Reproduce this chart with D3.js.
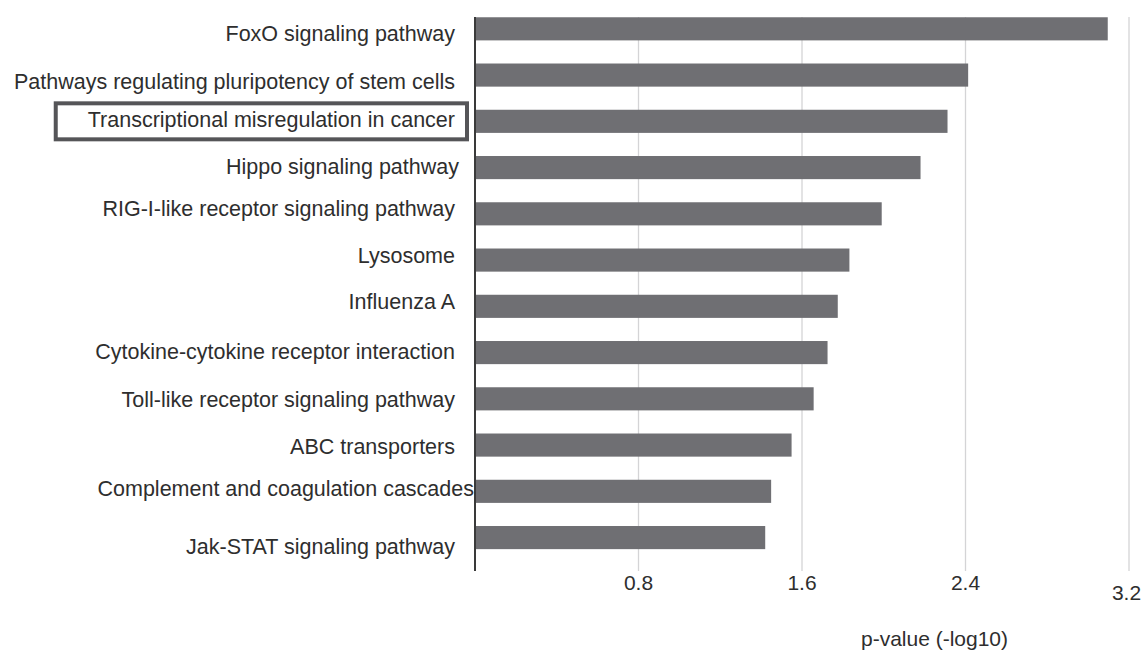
<!DOCTYPE html>
<html>
<head>
<meta charset="utf-8">
<script src="https://cdn.jsdelivr.net/npm/d3@7"></script>
<style>
  html, body { margin: 0; padding: 0; background: #ffffff; }
  svg { display: block; }
  text { font-family: "Liberation Sans", Arial, Helvetica, sans-serif; fill: #2e2e2e; }
</style>
</head>
<body>
<svg id="chart" width="1144" height="652"></svg>
<script>
// KEGG pathway enrichment, -log10(p-value)
const pathways = [
  "FoxO signaling pathway",
  "Pathways regulating pluripotency of stem cells",
  "Transcriptional misregulation in cancer",
  "Hippo signaling pathway",
  "RIG-I-like receptor signaling pathway",
  "Lysosome",
  "Influenza A",
  "Cytokine-cytokine receptor interaction",
  "Toll-like receptor signaling pathway",
  "ABC transporters",
  "Complement and coagulation cascades",
  "Jak-STAT signaling pathway"
];
const logP = [3.096, 2.413, 2.312, 2.18, 1.99, 1.832, 1.775, 1.725, 1.657, 1.549, 1.449, 1.42];
const tickValues = [0.8, 1.6, 2.4, 3.2];
const xTitle = "p-value (-log10)";
const highlighted = "Transcriptional misregulation in cancer";

const svg = d3.select("#chart");

const x = d3.scaleLinear().domain([0, 3.2]).range([475, 1129]);
const y = d3.scaleBand().domain(pathways).range([5.7, 560.7])
  .paddingInner(0.5).paddingOuter(0.25);

const plotTop = 17, plotBottom = 571;

// vertical grid lines
svg.append("g").selectAll("line").data(tickValues).join("line")
  .attr("x1", d => x(d)).attr("x2", d => x(d))
  .attr("y1", plotTop).attr("y2", plotBottom)
  .attr("stroke", "#d4d4d6").attr("stroke-width", 1.3);

// bars
svg.append("g").selectAll("rect").data(pathways).join("rect")
  .attr("x", x(0))
  .attr("y", d => y(d))
  .attr("width", (d, i) => x(logP[i]) - x(0))
  .attr("height", y.bandwidth())
  .attr("fill", "#6f6f73");

// category axis line
svg.append("line")
  .attr("x1", x(0)).attr("x2", x(0))
  .attr("y1", plotTop).attr("y2", plotBottom)
  .attr("stroke", "#3a3a3a").attr("stroke-width", 2);

// hand-placed label offsets (dx, dy) relative to the default anchor
const labelNudge = {
  "FoxO signaling pathway": [0, 4.3],
  "Pathways regulating pluripotency of stem cells": [0, 5.9],
  "Transcriptional misregulation in cancer": [0, -1.9],
  "Hippo signaling pathway": [4, -1],
  "RIG-I-like receptor signaling pathway": [0, -5.7],
  "Lysosome": [0, -5],
  "Influenza A": [0, -5.2],
  "Cytokine-cytokine receptor interaction": [0, -1.7],
  "Toll-like receptor signaling pathway": [0, 0],
  "ABC transporters": [0, 1.6],
  "Complement and coagulation cascades": [19, -2.7],
  "Jak-STAT signaling pathway": [0, 9]
};

const labelX = x(0) - 20;
const labels = svg.append("g").selectAll("text").data(pathways).join("text")
  .attr("x", d => labelX + labelNudge[d][0])
  .attr("y", d => y(d) + y.bandwidth() / 2 + 7.7 + labelNudge[d][1])
  .attr("text-anchor", "end")
  .attr("font-size", "21.5px")
  .text(d => d);

// frame around the highlighted pathway
const hl = labels.filter(d => d === highlighted).node().getBBox();
const bandMid = y(highlighted) + y.bandwidth() / 2;
svg.append("rect")
  .attr("x", hl.x - 32)
  .attr("y", bandMid - 18)
  .attr("width", (labelX + 12) - (hl.x - 32))
  .attr("height", 36)
  .attr("fill", "none")
  .attr("stroke", "#555558")
  .attr("stroke-width", 4);

// value axis tick labels
svg.append("g").selectAll("text").data(tickValues).join("text")
  .attr("x", d => x(d) - (d === x.domain()[1] ? 2.5 : 0))
  .attr("y", d => 590 + (d === x.domain()[1] ? 10 : 0))
  .attr("text-anchor", "middle")
  .attr("font-size", "21px")
  .text(d => d3.format(".1f")(d));

// axis title
svg.append("text")
  .attr("x", 934.5)
  .attr("y", 646)
  .attr("text-anchor", "middle")
  .attr("font-size", "21px")
  .text(xTitle);
</script>
</body>
</html>
